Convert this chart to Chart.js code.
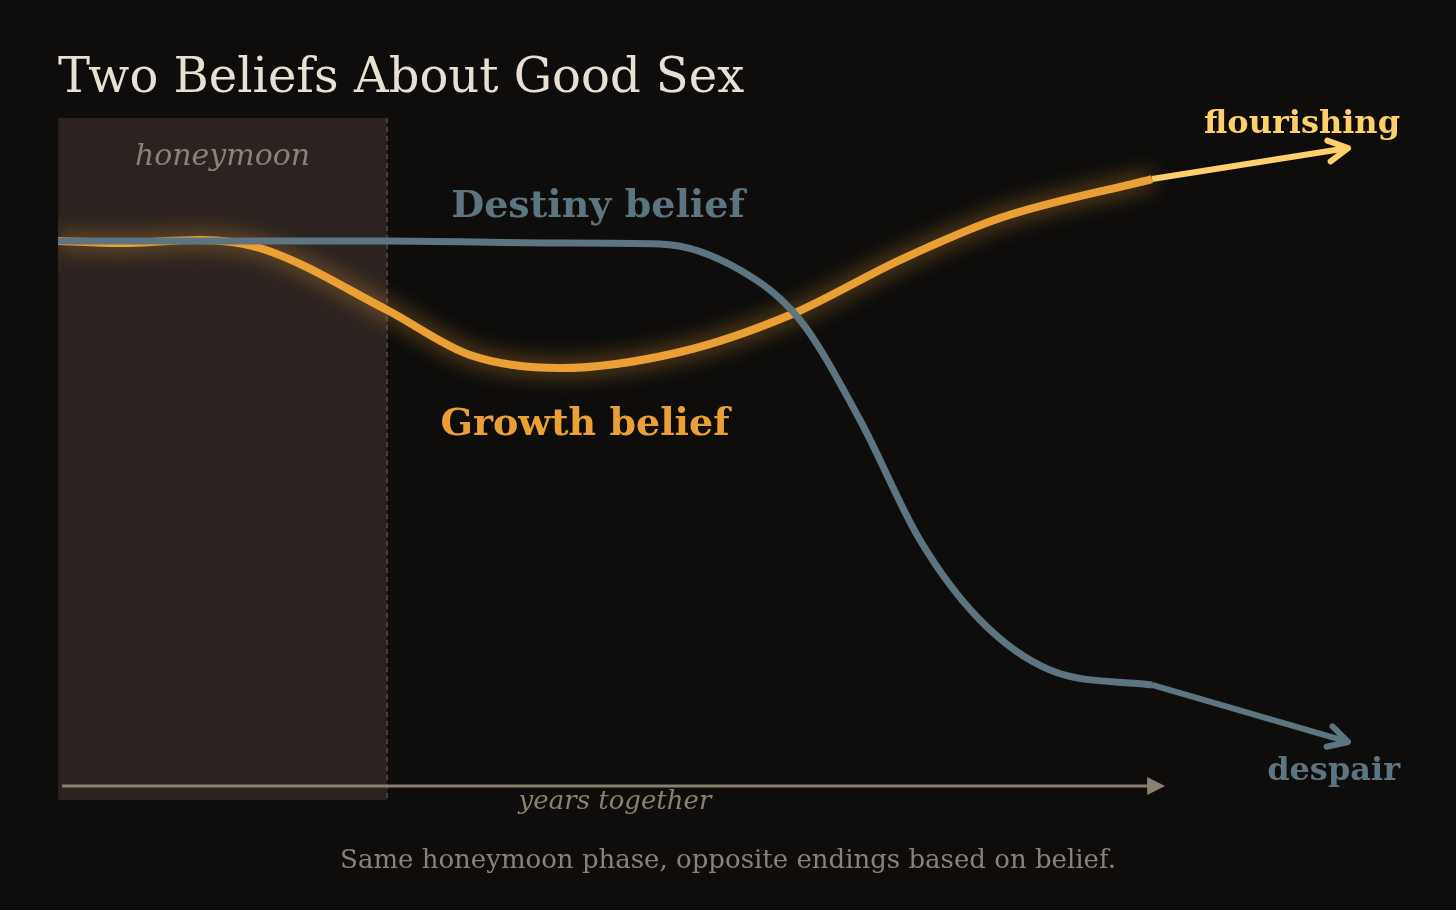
<!DOCTYPE html>
<html><head><meta charset="utf-8">
<script src="https://cdn.jsdelivr.net/npm/chart.js@4"></script>
<style>html,body{margin:0;background:#0e0d0c;}#w{width:1456px;height:910px;}</style>
</head><body><div id="w"><canvas id="c"></canvas></div>
<script>
const years = [0,10.58,24.52,37.41,44.86,50.82,55.29,59.76,64.23,68.70,73.92,81.52];
const destiny = [79.86,79.86,79.86,79.57,79.43,75.71,68.57,54.29,37.14,25.71,18.57,16.43];
const growthYears = [0,4.62,10.58,15.05,24.52,30.70,37.41,46.35,54.55,62.74,70.19,81.52];
const growth = [79.86,79.57,80,78.86,70,63.57,61.71,64,69.29,77.14,83.14,88.71];
const destinyArrow = [[81.52,16.43],[96.13,8.29]];
const growthArrow = [[81.52,88.71],[96.13,93.14]];
const honeymoonEnd = 24.52, honeymoonTop = 97.43, axisEnd = 82.5, axisY = 2;
const BG='#0e0d0c', ORANGE='#eba035', SLATE='#5d7580', GOLD='#fdd06a';
const pts=(xs,ys)=>xs.map((x,i)=>({x,y:ys[i]}));
const arr=a=>a.map(p=>({x:p[0],y:p[1]}));

const deco={id:'deco',
 beforeDatasetsDraw(ch){const {ctx,scales:{x,y}}=ch;ctx.save();
  const l=x.getPixelForValue(0),r=x.getPixelForValue(honeymoonEnd),t=y.getPixelForValue(honeymoonTop),b=y.getPixelForValue(0);
  ctx.fillStyle='#2c2320';ctx.fillRect(l,t,r-l,b-t);
  ctx.strokeStyle='#4a3f3a';ctx.lineWidth=2;ctx.setLineDash([5,4]);ctx.beginPath();ctx.moveTo(r,t);ctx.lineTo(r,b);ctx.stroke();ctx.setLineDash([]);
  ctx.font='italic 30px "DejaVu Serif"';ctx.fillStyle='#8c8079';ctx.textAlign='center';ctx.textBaseline='alphabetic';ctx.fillText('honeymoon',(l+r)/2,165);
  // axis
  const ay=y.getPixelForValue(axisY),ax=x.getPixelForValue(axisEnd);
  ctx.strokeStyle='#8c8070';ctx.fillStyle='#8c8070';ctx.lineWidth=3;ctx.beginPath();ctx.moveTo(l+4,ay);ctx.lineTo(ax-10,ay);ctx.stroke();
  ctx.beginPath();ctx.moveTo(ax,ay);ctx.lineTo(ax-18,ay-9);ctx.lineTo(ax-18,ay+9);ctx.closePath();ctx.fill();
  ctx.font='italic 26px "DejaVu Serif"';ctx.fillText('years together',615,809);
  ctx.restore();},
 beforeDatasetDraw(ch,a){if(a.meta.dataset&&ch.data.datasets[a.index].glow){ch.ctx.save();ch.ctx.shadowColor='rgba(235,160,53,0.75)';ch.ctx.shadowBlur=22;}},
 afterDatasetDraw(ch,a){if(ch.data.datasets[a.index].glow)ch.ctx.restore();},
 afterDatasetsDraw(ch){const {ctx,scales:{x,y}}=ch;ctx.save();
  const head=(p0,p1,c)=>{const x0=x.getPixelForValue(p0[0]),y0=y.getPixelForValue(p0[1]),x1=x.getPixelForValue(p1[0]),y1=y.getPixelForValue(p1[1]);
   const a=Math.atan2(y1-y0,x1-x0);ctx.strokeStyle=c;ctx.lineWidth=6;ctx.lineCap='round';ctx.lineJoin='round';ctx.beginPath();
   ctx.moveTo(x1-22*Math.cos(a-0.5),y1-22*Math.sin(a-0.5));ctx.lineTo(x1,y1);ctx.lineTo(x1-22*Math.cos(a+0.5),y1-22*Math.sin(a+0.5));ctx.stroke();};
  head(destinyArrow[0],destinyArrow[1],SLATE);head(growthArrow[0],growthArrow[1],GOLD);
  ctx.textBaseline='alphabetic';
  ctx.font='48px "DejaVu Serif"';ctx.fillStyle='#e9dfd2';ctx.textAlign='left';ctx.fillText('Two Beliefs About Good Sex',58,92);
  ctx.font='bold 38px "DejaVu Serif"';ctx.textAlign='center';
  ctx.fillStyle=SLATE;ctx.fillText('Destiny belief',598,217);
  ctx.fillStyle=ORANGE;ctx.fillText('Growth belief',585,435);
  ctx.font='bold 32px "DejaVu Serif"';ctx.textAlign='right';
  ctx.fillStyle=GOLD;ctx.fillText('flourishing',1400,133);
  ctx.fillStyle=SLATE;ctx.fillText('despair',1400,780);
  ctx.font='26px "DejaVu Serif"';ctx.textAlign='center';ctx.fillStyle='#8c8079';
  ctx.fillText('Same honeymoon phase, opposite endings based on belief.',728,868);
  ctx.restore();}};

new Chart(document.getElementById('c'),{type:'line',
 data:{datasets:[
  {data:pts(years,destiny),borderColor:SLATE,borderWidth:7,cubicInterpolationMode:'monotone'},
  {data:arr(destinyArrow),borderColor:SLATE,borderWidth:6,tension:0},
  {data:pts(growthYears,growth),borderColor:ORANGE,borderWidth:8,cubicInterpolationMode:'monotone',glow:true},
  {data:arr(growthArrow),borderColor:GOLD,borderWidth:6,tension:0}
 ]},
 options:{responsive:true,maintainAspectRatio:false,animation:false,
  elements:{point:{radius:0},line:{borderCapStyle:'butt',borderJoinStyle:'round'}},
  layout:{padding:{left:58,right:56,top:100,bottom:110}},
  plugins:{legend:{display:false},tooltip:{enabled:false}},
  scales:{x:{type:'linear',min:0,max:100,display:false},y:{min:0,max:100,display:false}}},
 plugins:[deco]});
</script></body></html>
